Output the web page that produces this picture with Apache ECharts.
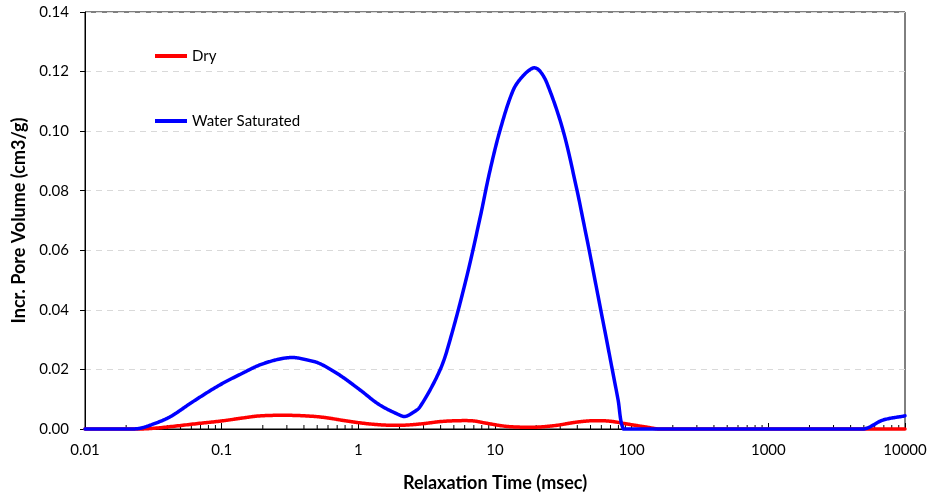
<!DOCTYPE html>
<html>
<head>
<meta charset="utf-8">
<script src="https://cdn.jsdelivr.net/npm/echarts@6/dist/echarts.min.js"></script>
<style>
  html, body { margin: 0; padding: 0; background: #fff; }
  #main { width: 929px; height: 498px; }
</style>
</head>
<body>
<div id="main"></div>
<script>
// relaxation time (msec) and incremental pore volume (cm3/g)
const waterX = [0.01, 0.02, 0.025, 0.0314, 0.042, 0.0617, 0.097, 0.143, 0.19, 0.26, 0.333, 0.42, 0.52, 0.73, 1.03, 1.43, 2.0, 2.19, 2.45, 2.83, 3.96, 4.69, 6.2, 7.8, 9.1, 10.9, 13.6, 16, 19, 21, 24, 31.4, 39.8, 44.1, 48.9, 53.9, 59.4, 65.5, 72.1, 79.4, 86.9, 100, 1000, 4930, 6900, 10000];
const waterY = [0, 0, 0.0002, 0.0016, 0.0041, 0.0092, 0.0148, 0.0188, 0.0215, 0.0234, 0.024, 0.0232, 0.022, 0.0181, 0.0131, 0.0081, 0.0047, 0.0042, 0.0052, 0.0075, 0.0198, 0.0299, 0.051, 0.0712, 0.0859, 0.1004, 0.1138, 0.1185, 0.1212, 0.1205, 0.1161, 0.1004, 0.0802, 0.0702, 0.06, 0.05, 0.04, 0.03, 0.02, 0.01, 0, 0, 0, 0, 0.003, 0.0044];

const dryX = [0.01, 0.025, 0.035, 0.069, 0.1, 0.143, 0.19, 0.3, 0.45, 0.58, 0.82, 1.15, 1.6, 2.2, 3.0, 4.0, 5.5, 7.0, 8.5, 12, 16, 20, 28, 38, 48, 56, 70, 92, 130, 160, 10000];
const dryY = [0, 0, 0.0004, 0.0019, 0.0027, 0.0037, 0.0044, 0.0046, 0.0043, 0.0038, 0.0027, 0.0018, 0.0013, 0.0013, 0.0018, 0.0025, 0.0028, 0.0027, 0.002, 0.0009, 0.0006, 0.0006, 0.0012, 0.0022, 0.0027, 0.0028, 0.0026, 0.0017, 0.0006, 0, 0];

const xTickLabels = ['0.01', '0.1', '1', '10', '100', '1000', '10000'];
const minorTicks = [];
for (let k = -2; k <= 3; k++) {
  for (let m = 2; m <= 9; m++) minorTicks.push(+(m * Math.pow(10, k)).toPrecision(3));
}

const font = 'Lato, "Liberation Sans", sans-serif';
const zip = (xs, ys) => xs.map((x, i) => [x, ys[i]]);

// smoothed line through the points, like a spreadsheet "smoothed line"
function smoothLine(xs, ys, color) {
  return (params, api) => {
    if (params.dataIndex !== 0) return null;
    const pts = xs.map((x, i) => api.coord([x, ys[i]]));
    const base = api.coord([xs[0], 0])[1];
    const d = (a, b) => Math.hypot(b[0] - a[0], b[1] - a[1]) || 1e-6;
    const out = [];
    const n = pts.length;
    for (let i = 0; i < n - 1; i++) {
      const p0 = pts[Math.max(i - 1, 0)], p1 = pts[i], p2 = pts[i + 1], p3 = pts[Math.min(i + 2, n - 1)];
      const l = d(p1, p2);
      const f1 = l / (d(p0, p1) + l) / 3;
      const f2 = l / (l + d(p2, p3)) / 3;
      const c1 = [p1[0] + (p2[0] - p0[0]) * f1, p1[1] + (p2[1] - p0[1]) * f1];
      const c2 = [p2[0] - (p3[0] - p1[0]) * f2, p2[1] - (p3[1] - p1[1]) * f2];
      for (let s = 0; s < 24; s++) {
        const t = s / 24, u = 1 - t;
        const x = u * u * u * p1[0] + 3 * u * u * t * c1[0] + 3 * u * t * t * c2[0] + t * t * t * p2[0];
        const y = u * u * u * p1[1] + 3 * u * u * t * c1[1] + 3 * u * t * t * c2[1] + t * t * t * p2[1];
        out.push([x, Math.min(y, base)]);
      }
    }
    out.push(pts[n - 1]);
    return {
      type: 'polyline',
      shape: { points: out },
      style: { stroke: color, lineWidth: 3.5, fill: null, lineJoin: 'round', lineCap: 'round' }
    };
  };
}

const chart = echarts.init(document.getElementById('main'));
chart.setOption({
  animation: false,
  textStyle: { fontFamily: font },
  grid: {
    left: 85, right: 24, top: 12, bottom: 69,
    outerBoundsMode: 'none',
    containLabel: false,
    show: true, borderColor: '#000', borderWidth: 1
  },
  legend: {
    data: ['Dry', 'Water Saturated'],
    orient: 'vertical',
    left: 150, top: 43,
    icon: 'rect',
    itemWidth: 32, itemHeight: 4,
    itemGap: 49,
    textStyle: { fontFamily: font, fontSize: 15, color: '#000', lineHeight: 16 }
  },
  xAxis: {
    type: 'log',
    logBase: 10,
    min: 0.01, max: 10000,
    interval: 1,
    name: 'Relaxation Time (msec)',
    nameLocation: 'middle',
    nameGap: 45,
    nameTextStyle: { fontFamily: font, fontSize: 18, fontWeight: 'bold', color: '#000' },
    axisLine: { lineStyle: { color: '#000', width: 1 } },
    axisTick: { inside: true, length: 6, lineStyle: { color: '#000' } },
    axisLabel: {
      fontFamily: font, fontSize: 15, color: '#000', margin: 14,
      formatter: (v, i) => xTickLabels[i]
    },
    splitLine: { show: false }
  },
  yAxis: {
    type: 'value',
    min: 0, max: 0.14, interval: 0.02,
    name: 'Incr. Pore Volume (cm3/g)',
    nameLocation: 'middle',
    nameGap: 57,
    nameTextStyle: { fontFamily: font, fontSize: 18, fontWeight: 'bold', color: '#000' },
    axisLine: { show: true, lineStyle: { color: '#000', width: 1 } },
    axisTick: { show: true, length: 5, lineStyle: { color: '#000' } },
    axisLabel: {
      fontFamily: font, fontSize: 15, color: '#000', margin: 16,
      formatter: v => v.toFixed(2)
    },
    splitLine: { lineStyle: { color: '#d9d9d9', type: [6, 5], width: 1 } }
  },
  series: [
    {
      type: 'custom',
      silent: true,
      z: 1,
      data: minorTicks.map(v => [v, 0]),
      renderItem: (params, api) => {
        const p = api.coord([api.value(0), 0]);
        return {
          type: 'line',
          shape: { x1: p[0], y1: p[1], x2: p[0], y2: p[1] - 4 },
          style: { stroke: '#000', lineWidth: 1 }
        };
      }
    },
    {
      name: 'Dry',
      type: 'custom',
      z: 3,
      silent: true,
      encode: { x: 0, y: 1 },
      data: zip(dryX, dryY),
      itemStyle: { color: '#ff0000' },
      renderItem: smoothLine(dryX, dryY, '#ff0000')
    },
    {
      name: 'Water Saturated',
      type: 'custom',
      z: 4,
      silent: true,
      encode: { x: 0, y: 1 },
      data: zip(waterX, waterY),
      itemStyle: { color: '#0000ff' },
      renderItem: smoothLine(waterX, waterY, '#0000ff')
    }
  ]
});
</script>
</body>
</html>
